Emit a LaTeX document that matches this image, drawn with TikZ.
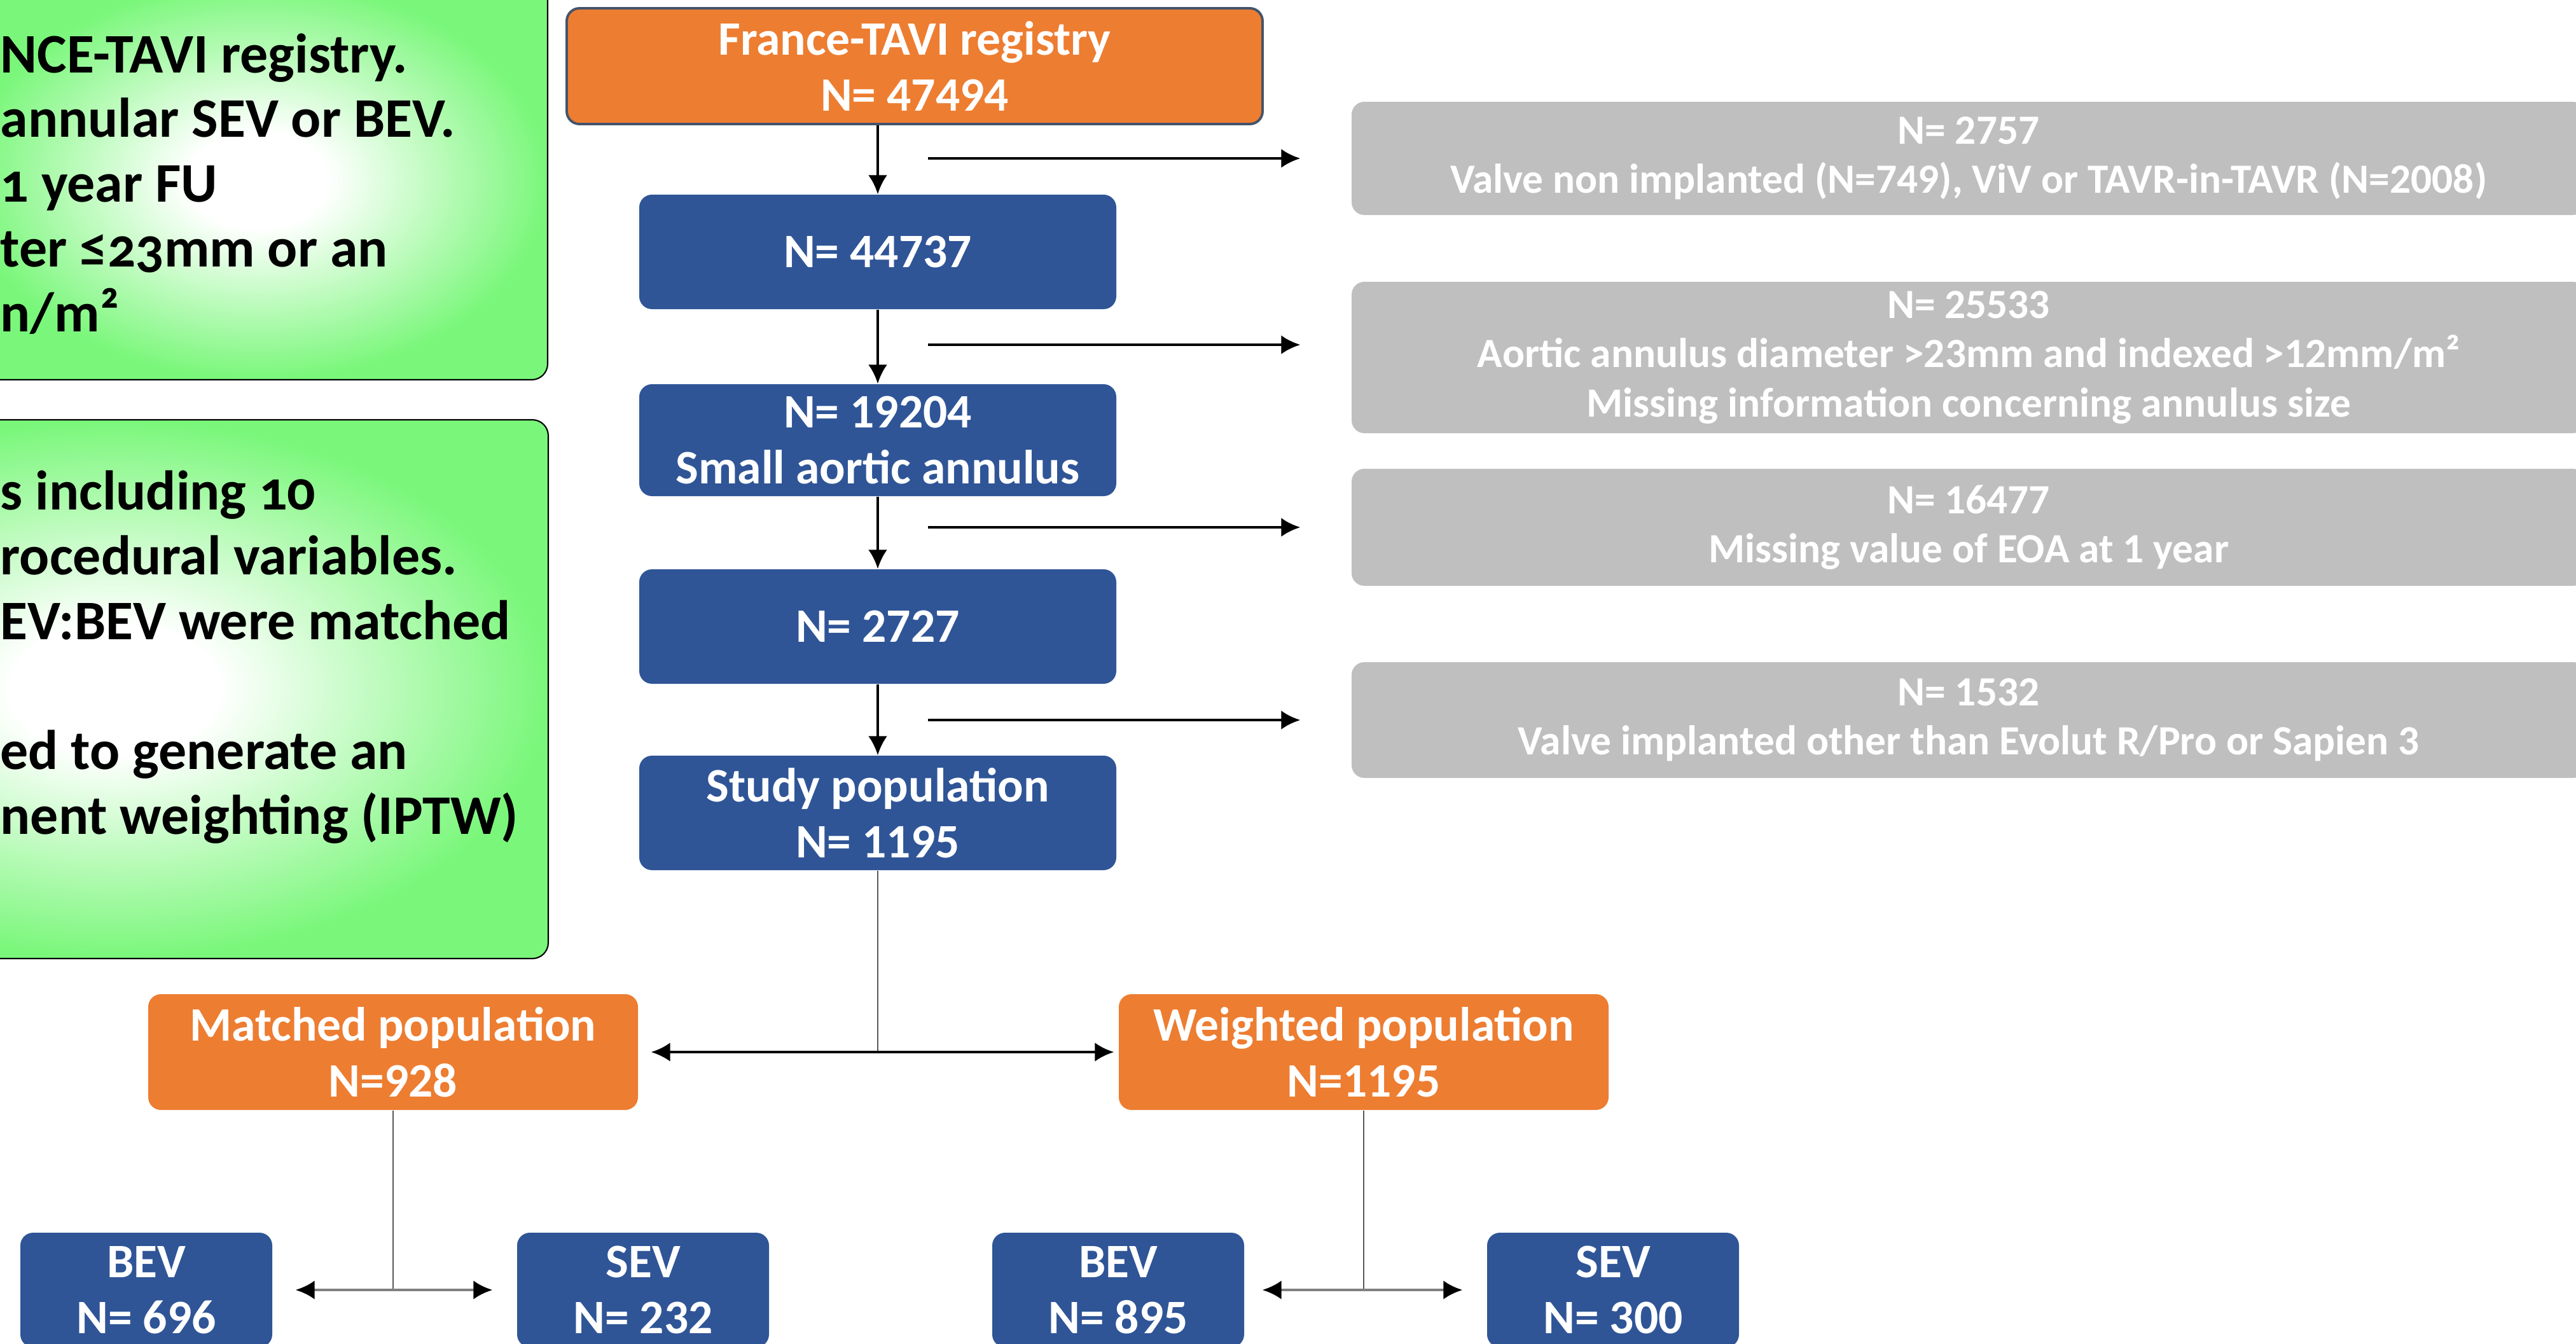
\documentclass[tikz,border=0pt]{standalone}
\usepackage{fontspec}
\setmainfont{Carlito}
\newfontfamily\notefont{Carlito}[Numbers=OldStyle]
\usetikzlibrary{shapes, arrows.meta, positioning}
\definecolor{orangebox}{RGB}{237,125,49}
\definecolor{bluebox}{RGB}{47,85,151}
\definecolor{greybox}{RGB}{191,191,191}
\definecolor{greenbox}{RGB}{122,247,122}
\definecolor{edgeline}{RGB}{68,84,106}
\pgfdeclareradialshading{glow}{\pgfpointorigin}{color(0bp)=(white); color(6bp)=(white); color(25bp)=(greenbox); color(50bp)=(greenbox)}
\tikzstyle{cohort}=[rectangle, rounded corners=0.2cm, fill=bluebox, text=white, font=\bfseries\fontsize{21.5}{25}\selectfont, align=center, minimum width=7.5cm, minimum height=1.8cm, inner sep=0]
\tikzstyle{pop}=[cohort, fill=orangebox, minimum width=7.7cm, minimum height=1.82cm]
\tikzstyle{arm}=[cohort, minimum width=3.96cm]
\tikzstyle{excluded}=[cohort, fill=greybox, minimum width=19.4cm, font=\bfseries\fontsize{18.6}{22}\selectfont]
\tikzstyle{criteria}=[rounded corners=0.25cm, draw=black, line width=0.6pt, shading=glow]
\tikzstyle{note}=[anchor=west, align=left, inner sep=0, font=\notefont\bfseries\fontsize{25}{29}\selectfont]
\tikzstyle{flow}=[->, line width=1.3pt]
\tikzstyle{branch}=[draw=black!65, line width=0.6pt]
\tikzstyle{twoway}=[<->, >={Latex[length=0.3cm, width=0.3cm, color=black]}, draw=black!50, line width=1.4pt]

\begin{document}
\begin{tikzpicture}[>={Latex[length=0.3cm, width=0.3cm]}]
    \useasboundingbox (0,0) rectangle (40.5,-21.12);
    \clip (0,0) rectangle (40.5,-21.12);
    % criteria panels, cut by the page edge
    \path[criteria] (-0.5,0.3) rectangle (8.61,-5.97);
    \path[criteria] (-5,-6.60) rectangle (8.62,-15.07);
    \node[note] (incl) at (0,-2.89) {NCE-TAVI registry.\\annular SEV or BEV.\\1 year FU\\ter ≤23mm or an\\n/m²};
    \node[note] (method) at (0,-10.33) {s including 10\\rocedural variables.\\EV:BEV were matched\\[29pt]ed to generate an\\nent weighting (IPTW)};

    % main flow
    \node[cohort, fill=orangebox, draw=edgeline, line width=1.1pt, minimum width=10.94cm, minimum height=1.82cm] (registry) at (14.38,-1.04) {France-TAVI registry\\N= 47494};
    \node[cohort, below of=registry, node distance=2.92cm, xshift=-0.58cm] (n44737) {N= 44737};
    \node[cohort, below of=n44737, node distance=2.96cm, minimum height=1.76cm] (n19204) {N= 19204\\Small aortic annulus};
    \node[cohort, below of=n19204, node distance=2.93cm] (n2727) {N= 2727};
    \node[cohort, below of=n2727, node distance=2.93cm] (n1195) {Study population\\N= 1195};

    % exclusions
    \node[excluded, minimum height=1.78cm] (ex2757) at (30.95,-2.49) {N= 2757\\Valve non implanted (N=749), ViV or TAVR-in-TAVR (N=2008)};
    \node[excluded, minimum height=2.38cm] (ex25533) at (30.95,-5.62) {N= 25533\\Aortic annulus diameter >23mm and indexed >12mm/m²\\Missing information concerning annulus size};
    \node[excluded, minimum height=1.84cm] (ex16477) at (30.95,-8.29) {N= 16477\\Missing value of EOA at 1 year};
    \node[excluded, minimum height=1.82cm] (ex1532) at (30.95,-11.32) {N= 1532\\Valve implanted other than Evolut R/Pro or Sapien 3};

    \draw[flow] (registry.south -| n44737) -- (n44737);
    \draw[flow] (n44737) -- (n19204);
    \draw[flow] (n19204) -- (n2727);
    \draw[flow] (n2727) -- (n1195);
    \draw[flow] ([xshift=-6.65cm]ex2757.west) -- ([xshift=-0.8cm]ex2757.west);
    \draw[flow] ([xshift=-6.65cm, yshift=0.2cm]ex25533.west) -- ([xshift=-0.8cm, yshift=0.2cm]ex25533.west);
    \draw[flow] ([xshift=-6.65cm]ex16477.west) -- ([xshift=-0.8cm]ex16477.west);
    \draw[flow] ([xshift=-6.65cm]ex1532.west) -- ([xshift=-0.8cm]ex1532.west);

    % matched / weighted
    \node[pop] (matched) at (6.18,-16.54) {Matched population\\N=928};
    \node[pop] (weighted) at (21.44,-16.54) {Weighted population\\N=1195};
    \draw[branch] (n1195) -- (n1195 |- matched);
    \draw[flow, <->, shorten <=0.2cm, shorten >=0.07cm] (matched) -- (weighted);

    \node[arm] (bevm) at (2.30,-20.28) {BEV\\N= 696};
    \node[arm] (sevm) at (10.11,-20.28) {SEV\\N= 232};
    \node[arm] (bevw) at (17.58,-20.28) {BEV\\N= 895};
    \node[arm] (sevw) at (25.36,-20.28) {SEV\\N= 300};
    \draw[branch] (matched) -- (matched |- bevm);
    \draw[twoway, shorten <=0.36cm, shorten >=0.38cm] (bevm) -- (sevm);
    \draw[branch] (weighted) -- (weighted |- bevw);
    \draw[twoway, shorten <=0.28cm, shorten >=0.38cm] (bevw) -- (sevw);
\end{tikzpicture}
\end{document}
